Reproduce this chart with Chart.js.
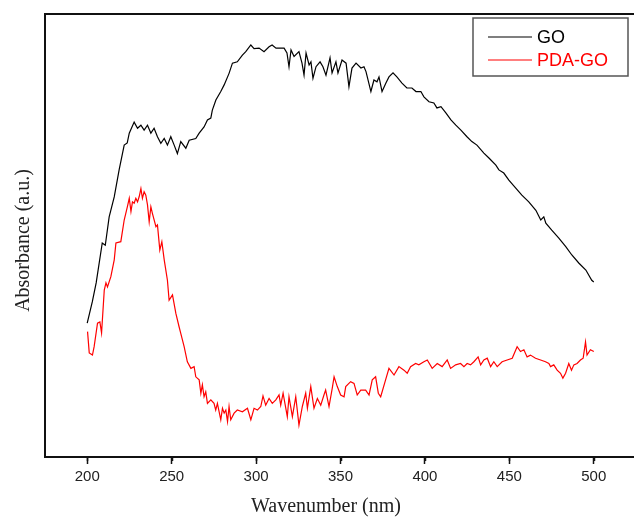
<!DOCTYPE html>
<html>
<head>
<meta charset="utf-8">
<script src="https://cdn.jsdelivr.net/npm/chart.js"></script>
<style>
  html, body { margin: 0; padding: 0; background: #fff; overflow: hidden; }
</style>
</head>
<body>
<canvas id="myChart" width="640" height="517"></canvas>
<script>
  // DATA BLOCK (absorbance in arbitrary units)

  const goNm = [200, 203.0, 205.3, 208.9, 210.7, 213.0, 216.0, 218.9, 221.9, 223.7, 224.9, 227.8, 229.8, 231.8, 233.7, 235.7, 237.7, 239.6, 241.6, 243.6,
    245.6, 247.5, 249.5, 251.5, 253.4, 255.4, 258.4, 260.4, 264.3, 266.3, 269.2, 271.2, 273.2, 274.1, 276.2, 279.1, 281.1, 284.0, 286.0, 288.9,
    291.9, 293.9, 296.9, 298.8, 301.8, 304.7, 307.7, 309.5, 311.8, 314.8, 316.6, 318.3, 319.5, 320.7, 322.5, 325.4, 327.2, 328.4, 329.6, 331.4,
    332.5, 333.7, 335.5, 337.9, 339.6, 341.4, 343.8, 345.0, 347.3, 348.5, 350.9, 353.3, 355.0, 356.8, 359.2, 362.1, 363.9, 365.1, 368.0, 369.8,
    371.6, 372.8, 374.6, 376.9, 378.7, 381.1, 383.4, 386.4, 389.3, 392.3, 394.7, 397.6, 399.4, 402.4, 405.3, 407.1, 409.5, 412.4, 415.4, 418.3,
    421.3, 424.9, 427.8, 430.8, 434.9, 437.9, 442.0, 443.8, 446.7, 449.7, 453.8, 457.4, 461.5, 465.7, 468.6, 470.4, 471.6, 475.1, 479.3, 483.4,
    487.0, 491.1, 495.3, 498.8, 500];
  const goAbs = [30.2, 35.0, 39.3, 48.3, 47.8, 54.2, 58.7, 64.8, 70.4, 70.9, 73.1, 75.6, 74.2, 74.9, 73.8, 74.9, 73.1, 74.2, 72.3, 70.8,
    71.9, 70.4, 72.3, 70.4, 68.5, 71.2, 69.7, 71.5, 71.9, 73.1, 74.5, 76.1, 76.5, 78.3, 80.6, 82.5, 84.0, 86.6, 88.9, 89.2,
    90.7, 91.5, 93.0, 92.2, 92.3, 91.5, 92.6, 93.0, 92.3, 92.3, 92.3, 91.2, 88.1, 91.9, 90.4, 91.5, 88.9, 86.2, 91.2, 88.5,
    89.2, 85.5, 88.1, 89.2, 88.1, 86.2, 90.1, 86.7, 89.2, 86.7, 89.6, 88.9, 83.6, 87.8, 88.9, 87.8, 88.1, 87.0, 82.5, 85.1,
    84.7, 85.8, 82.5, 84.4, 85.8, 86.7, 85.8, 84.4, 83.3, 83.3, 82.5, 82.5, 81.3, 80.2, 79.9, 78.8, 79.1, 77.7, 76.1, 74.9,
    73.8, 72.3, 71.2, 70.4, 68.6, 67.5, 65.9, 64.8, 64.1, 62.5, 60.7, 59.1, 57.6, 55.7, 53.5, 54.2, 52.8, 51.2, 49.4, 47.5,
    45.6, 43.8, 42.2, 39.9, 39.5];

  const pdaNm = [200.2, 201.2, 203.1, 204.1, 206.1, 207.5, 208.5, 210.1, 211.1, 212.0, 214.0, 216.0, 217.0, 219.9, 221.9, 223.8, 224.9, 225.9, 226.8, 227.8,
    228.8, 229.8, 230.8, 231.8, 232.7, 233.7, 234.7, 235.7, 236.7, 237.7, 238.6, 240.7, 241.6, 243.0, 244.2, 245.6, 247.5, 248.5, 250.5, 252.5,
    254.4, 255.4, 257.4, 259.3, 261.4, 263.3, 264.3, 266.3, 267.3, 268.2, 269.2, 270.2, 271.2, 273.2, 275.1, 276.1, 277.1, 279.1, 280.1, 281.1,
    282.1, 283.1, 284.0, 285.0, 287.0, 288.9, 291.9, 294.9, 296.9, 298.8, 300.8, 302.8, 304.1, 305.7, 307.7, 309.6, 311.7, 313.6, 314.6, 316.0,
    318.5, 319.5, 321.5, 323.5, 325.4, 327.4, 329.4, 330.4, 332.4, 334.3, 336.3, 338.3, 340.2, 341.2, 343.2, 345.1, 346.2, 348.1, 350.1, 352.1,
    353.1, 356.0, 358.0, 359.9, 362.0, 364.9, 366.9, 368.8, 370.8, 372.4, 373.8, 376.7, 378.7, 381.7, 384.6, 387.6, 389.5, 391.5, 394.5, 396.4,
    399.4, 401.4, 404.3, 407.3, 410.2, 413.2, 415.2, 418.2, 421.1, 423.1, 425.0, 427.0, 429.0, 431.5, 433.0, 434.9, 436.9, 438.9, 440.8, 442.8,
    445.7, 448.7, 451.7, 454.6, 456.6, 458.6, 460.5, 462.5, 465.5, 468.5, 471.4, 473.4, 474.4, 476.3, 478.3, 480.3, 481.7, 483.3, 485.2, 486.8,
    488.2, 490.1, 492.1, 493.7, 495.1, 496.0, 498.0, 500];
  const pdaAbs = [28.3, 23.5, 23.0, 24.9, 30.2, 30.5, 28.0, 37.7, 39.3, 38.4, 40.7, 44.5, 48.3, 48.6, 53.5, 56.5, 58.4, 55.4, 57.6, 57.3,
    58.4, 57.6, 58.8, 60.6, 58.4, 59.9, 59.1, 56.9, 53.1, 56.5, 55.0, 52.0, 52.4, 46.7, 48.6, 44.5, 39.9, 35.4, 36.6, 32.4,
    29.4, 27.9, 24.9, 21.5, 20.0, 20.4, 18.1, 17.4, 14.4, 16.3, 13.6, 14.7, 12.1, 12.9, 12.1, 10.6, 12.1, 8.4, 11.0, 9.9,
    10.6, 8.0, 11.4, 8.4, 9.9, 10.6, 10.2, 11.0, 8.4, 11.0, 10.6, 11.4, 13.8, 11.7, 13.2, 12.1, 12.9, 14.0, 11.7, 14.4,
    9.1, 13.6, 9.1, 13.6, 7.2, 11.4, 14.4, 11.0, 15.9, 11.0, 13.2, 11.7, 14.0, 15.1, 11.4, 15.5, 18.1, 15.9, 14.0, 13.6,
    15.9, 17.0, 16.6, 14.0, 15.1, 15.1, 14.0, 17.4, 18.1, 14.4, 13.6, 17.4, 20.0, 18.5, 20.4, 19.6, 18.9, 20.4, 21.1, 20.8,
    21.5, 21.9, 20.0, 21.1, 20.4, 21.9, 20.0, 20.8, 21.1, 20.4, 21.1, 20.8, 21.5, 22.6, 20.8, 21.9, 22.3, 20.4, 21.5, 20.4,
    21.5, 21.9, 22.3, 24.9, 23.8, 24.2, 22.6, 23.0, 22.3, 21.9, 21.5, 21.1, 20.4, 20.8, 19.6, 18.9, 17.8, 18.9, 21.1, 19.6,
    20.8, 21.1, 21.9, 22.3, 26.0, 23.0, 24.2, 23.8];

  const seriesNames = ['GO', 'PDA-GO'];
  const seriesColors = ['#000000', '#ff0000'];

  const xMin = 175, xMax = 525;
  const majorStep = 50, minorStep = 25;

  const xTitle = 'Wavenumber (nm)';
  const yTitle = 'Absorbance (a.u.)';


  // PLUGINS - frame, short minor ticks, boxed legend and serif axis titles
  const decorations = {
    id: 'decorations',
    afterDraw(chart) {
      const ctx = chart.ctx;
      const area = chart.chartArea;
      const xs = chart.scales.x;
      ctx.save();

      // plot frame
      ctx.strokeStyle = '#111';
      ctx.lineWidth = 2;
      ctx.strokeRect(area.left, area.top, area.right - area.left, area.bottom - area.top);

      // minor ticks
      ctx.lineWidth = 1.5;
      for (let v = xMin + minorStep; v < xMax; v += majorStep) {
        const px = Math.round(xs.getPixelForValue(v)) + 0.5;
        ctx.beginPath();
        ctx.moveTo(px, area.bottom);
        ctx.lineTo(px, area.bottom + 4);
        ctx.stroke();
      }

      // legend box
      const lx = 473, ly = 18, lw = 155, lh = 58;
      ctx.strokeStyle = '#555';
      ctx.lineWidth = 1.5;
      ctx.strokeRect(lx, ly, lw, lh);
      ctx.font = '18px "Liberation Sans", Arial, sans-serif';
      ctx.textBaseline = 'middle';
      ctx.textAlign = 'left';
      chart.data.datasets.forEach((ds, i) => {
        const y = ly + 19 + i * 23;
        ctx.strokeStyle = ds.borderColor;
        ctx.lineWidth = 1.2;
        ctx.beginPath();
        ctx.moveTo(lx + 15, y);
        ctx.lineTo(lx + 59, y);
        ctx.stroke();
        ctx.fillStyle = ds.borderColor;
        ctx.fillText(ds.label, lx + 64, y + 1);
      });

      // axis titles
      ctx.fillStyle = '#222';
      ctx.font = '20px "Liberation Serif", "Times New Roman", serif';
      ctx.textAlign = 'center';
      ctx.textBaseline = 'middle';
      ctx.fillText(xTitle, 326, area.bottom + 50);
      ctx.translate(24, (area.top + area.bottom) / 2 + 5);
      ctx.rotate(-Math.PI / 2);
      ctx.fillText(yTitle, 0, 0);

      ctx.restore();
    }
  };


  // CONFIG BLOCK
  const data = {
    datasets: [
      {
        label: seriesNames[0],
        borderColor: seriesColors[0],
        backgroundColor: seriesColors[0],
        data: goNm.map((x, i) => ({ x: x, y: goAbs[i] })),
      },
      {
        label: seriesNames[1],
        borderColor: seriesColors[1],
        backgroundColor: seriesColors[1],
        data: pdaNm.map((x, i) => ({ x: x, y: pdaAbs[i] })),
      }
    ]
  };

  const config = {
    type: 'line',
    data,
    options: {
      responsive: false,
      animation: false,
      devicePixelRatio: 1,
      layout: { padding: { top: 14, right: 3.5, left: 0, bottom: 0 } },
      elements: {
        line: { borderWidth: 1.2, tension: 0 },
        point: { radius: 0 }
      },
      plugins: {
        legend: { display: false },
        tooltip: { enabled: false }
      },
      scales: {
        x: {
          type: 'linear',
          min: xMin,
          max: xMax,
          afterFit: (scale) => { scale.height = 60; },
          border: { display: false },
          grid: {
            drawOnChartArea: false,
            tickLength: 7,
            tickWidth: 1.5,
            tickColor: (ctx) => (ctx.tick && ctx.tick.value % majorStep === 0 ? '#111' : 'rgba(0,0,0,0)')
          },
          ticks: {
            stepSize: minorStep,
            autoSkip: false,
            maxRotation: 0,
            padding: 4,
            color: '#222',
            font: { family: '"Liberation Sans", Arial, sans-serif', size: 15 },
            callback: (v) => (v % majorStep === 0 && v >= 200 && v <= 500 ? v : '')
          }
        },
        y: {
          min: 0,
          max: 100,
          afterFit: (scale) => { scale.width = 45; },
          border: { display: false },
          grid: { display: false },
          ticks: { display: false }
        }
      }
    },
    plugins: [decorations]
  };

  // RENDER BLOCK
  var myChart = new Chart(
    document.getElementById('myChart'),
    config
  );
</script>
</body>
</html>
